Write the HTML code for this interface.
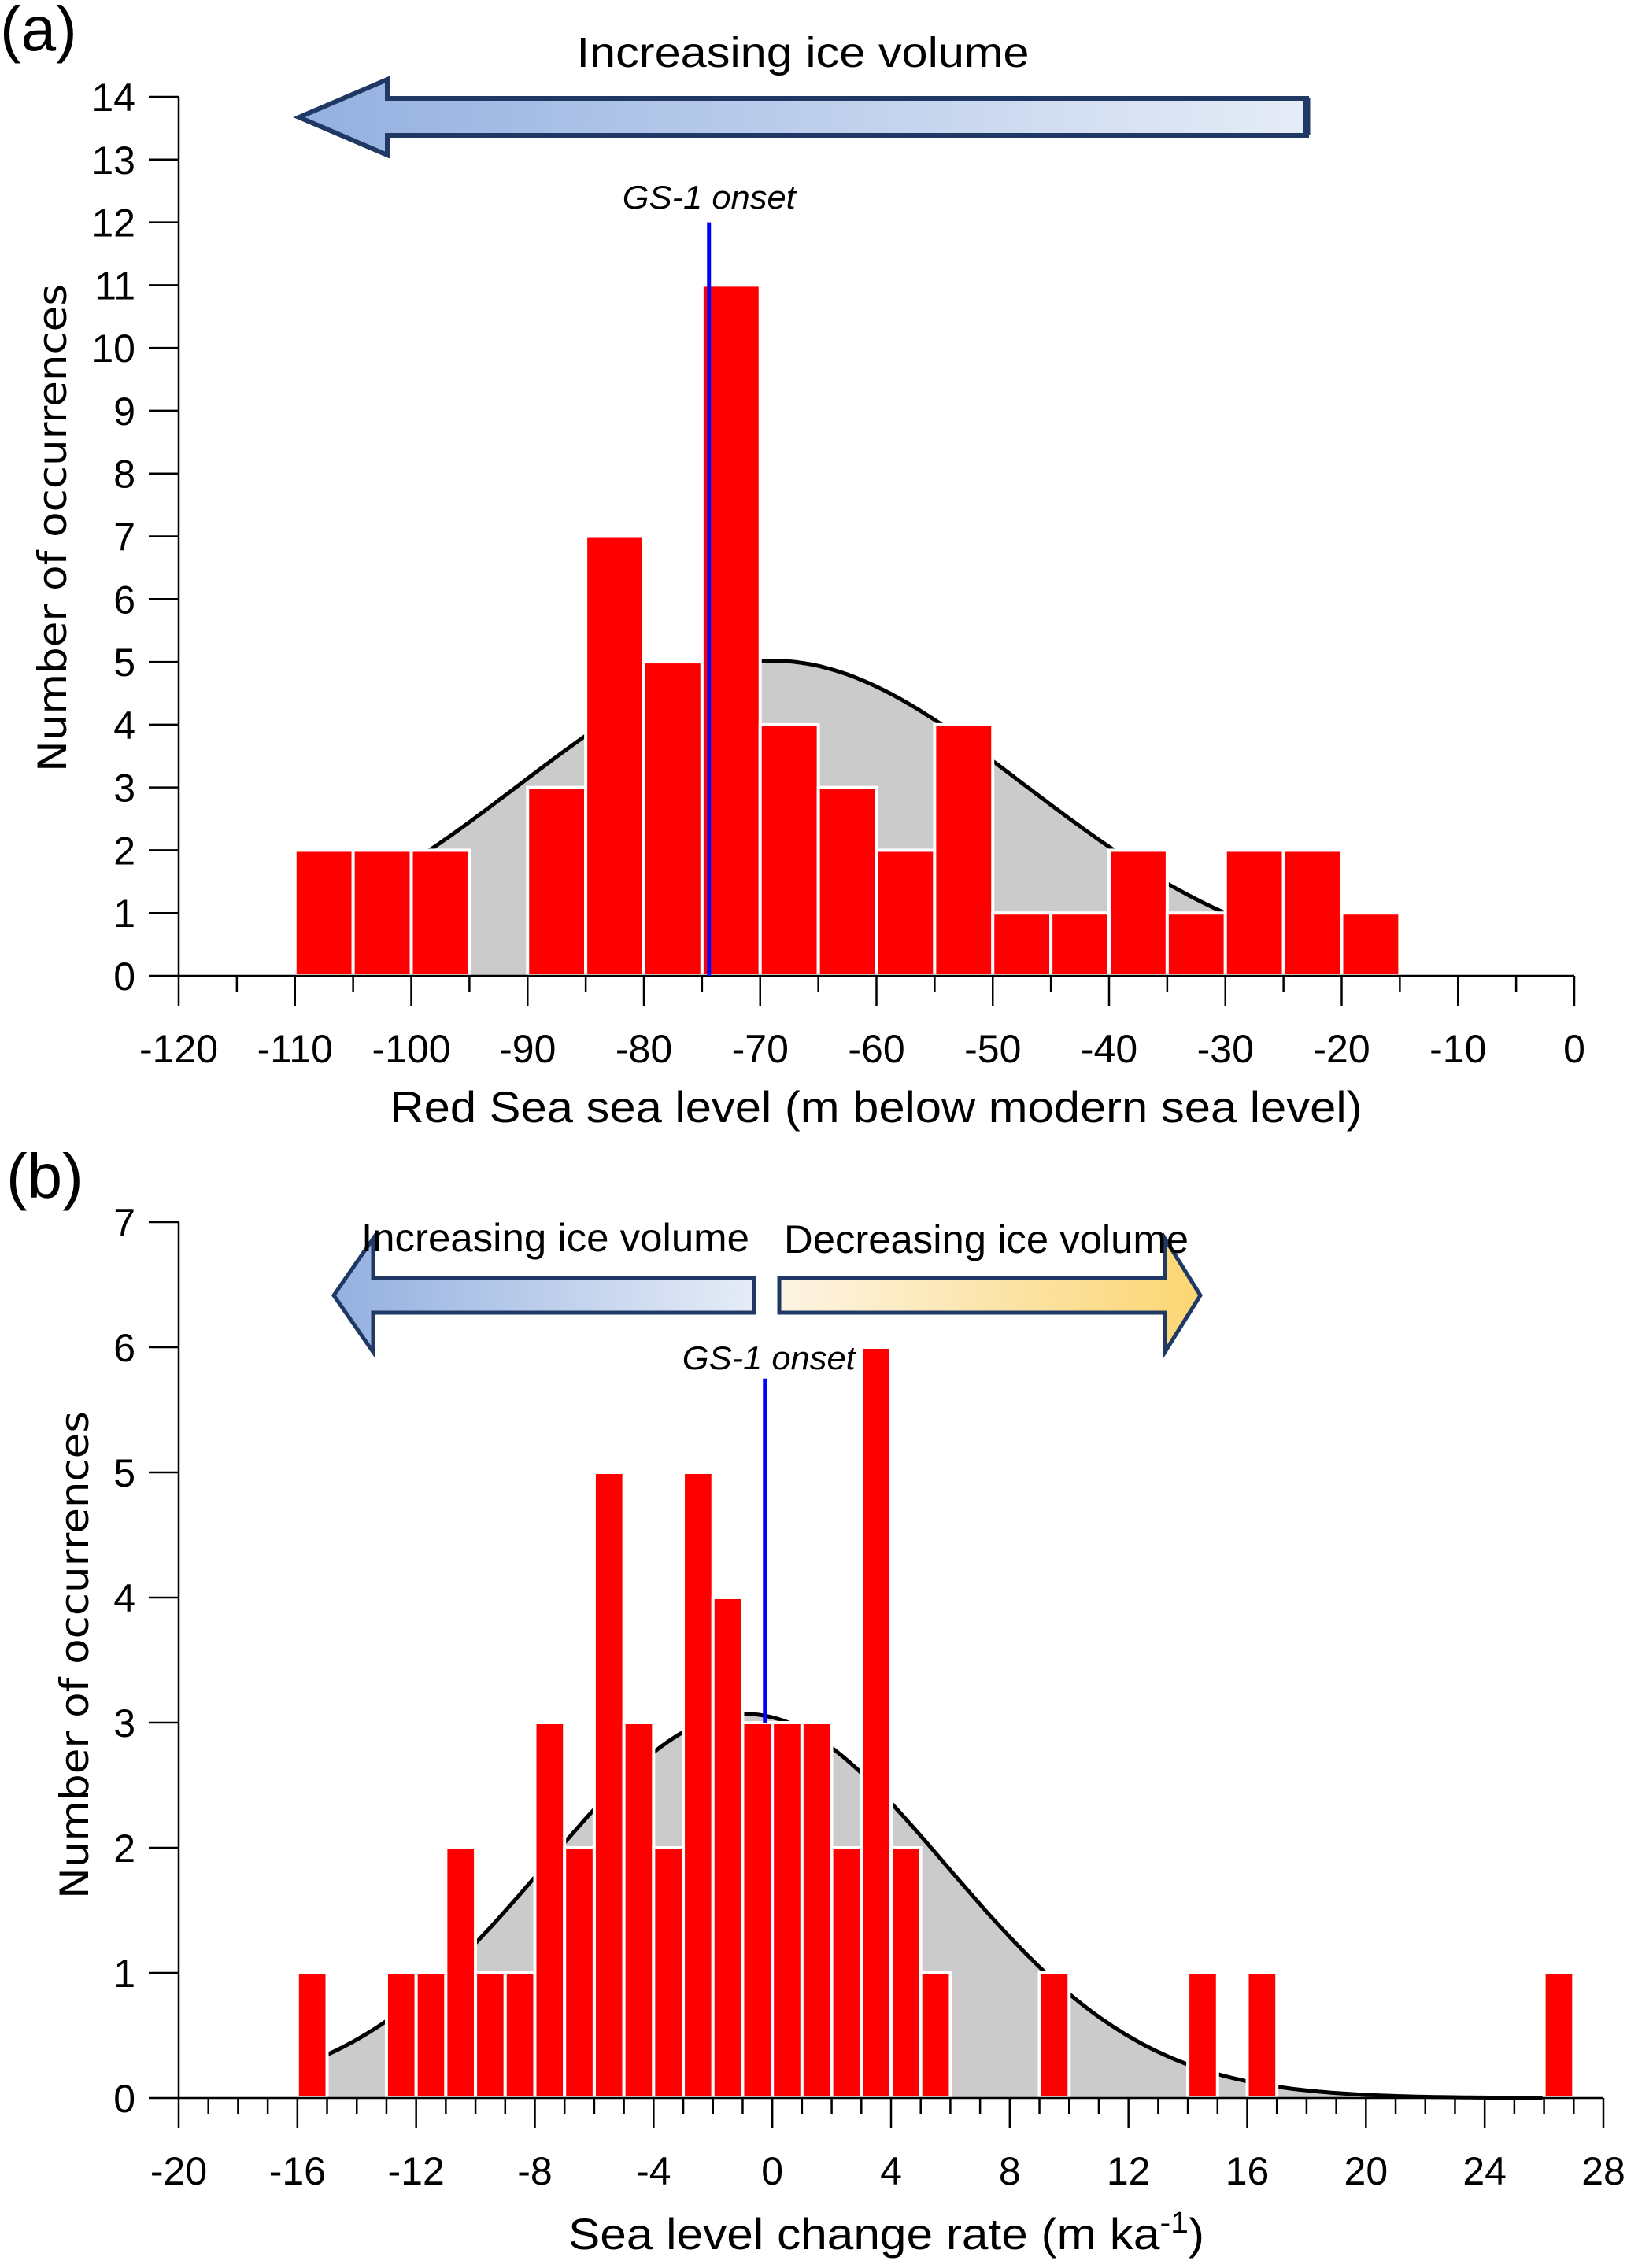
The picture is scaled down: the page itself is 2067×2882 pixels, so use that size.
<!DOCTYPE html>
<html><head><meta charset="utf-8"><style>
html,body{margin:0;padding:0;background:#fff;}
svg{display:block;}
text{font-family:"Liberation Sans",sans-serif;fill:#000;}
</style></head><body>
<svg id="fig" width="2067" height="2882" viewBox="0 0 2067 2882" xmlns="http://www.w3.org/2000/svg">
<defs>
<linearGradient id="gBlue" x1="0" x2="1" y1="0" y2="0"><stop offset="0" stop-color="#93b0e0"/><stop offset="1" stop-color="#e6ecf7"/></linearGradient>
<linearGradient id="gBlue2" x1="0" x2="1" y1="0" y2="0"><stop offset="0" stop-color="#93b0e0"/><stop offset="1" stop-color="#e6ecf7"/></linearGradient>
<linearGradient id="gYel" x1="0" x2="1" y1="0" y2="0"><stop offset="0" stop-color="#fdf4e4"/><stop offset="1" stop-color="#fcd673"/></linearGradient>
</defs>
<g id="panelA"></g>
<g id="panelB"></g>
<g>
<polygon points="380,149 492,101 492,125 1660,125 1660,172 492,172 492,197" fill="url(#gBlue)" stroke="#1f3864" stroke-width="6" stroke-linejoin="miter"/>
<line x1="1660" y1="125" x2="1660" y2="172" stroke="#1f3864" stroke-width="9"/>
</g>
<text x="1020" y="85" font-size="54" text-anchor="middle" textLength="575" lengthAdjust="spacingAndGlyphs">Increasing ice volume</text>
<g>
<polygon points="424,1646 474,1574 474,1624 958,1624 958,1668 474,1668 474,1718" fill="url(#gBlue2)" stroke="#1f3864" stroke-width="5"/>
</g>
<g>
<polygon points="1525,1646 1480,1574 1480,1624 990,1624 990,1668 1480,1668 1480,1718" fill="url(#gYel)" stroke="#1f3864" stroke-width="5"/>
</g>
<text x="459" y="1590" font-size="50" textLength="493" lengthAdjust="spacingAndGlyphs">Increasing ice volume</text>
<text x="996" y="1592" font-size="50" textLength="514" lengthAdjust="spacingAndGlyphs">Decreasing ice volume</text>
<text x="0" y="64" font-size="80">(a)</text>
<text x="8" y="1522" font-size="80">(b)</text>
</svg>
<script>
// ---- Panel A data ----
const aBinStarts = [-110,-105,-100,-95,-90,-85,-80,-75,-70,-65,-60,-55,-50,-45,-40,-35,-30,-25,-20];
const aCounts    = [2,2,2,0,3,7,5,11,4,3,2,4,1,1,2,1,2,2,1];
const aXTicks = [-120,-110,-100,-90,-80,-70,-60,-50,-40,-30,-20,-10,0];
const aYTicks = [0,1,2,3,4,5,6,7,8,9,10,11,12,13,14];
const aFitMean = -69, aFitSd = 21.7, aFitPeak = 5.02;
const aOnset = -74.4;
// ---- Panel B data ----
const bBinStarts = [-16,-13,-12,-11,-10,-9,-8,-7,-6,-5,-4,-3,-2,-1,0,1,2,3,4,5,9,14,16,26];
const bCounts    = [1,1,1,2,1,1,3,2,5,3,2,5,4,3,3,3,2,6,2,1,1,1,1,1];
const bXTicks = [-20,-16,-12,-8,-4,0,4,8,12,16,20,24,28];
const bYTicks = [0,1,2,3,4,5,6,7];
const bFitMean = -0.9, bFitSd = 6.75, bFitPeak = 3.07;
const bOnset = -0.25;

const NS="http://www.w3.org/2000/svg";
function mk(parent,tag,attrs,txt){const e=document.createElementNS(NS,tag);for(const k in attrs)e.setAttribute(k,attrs[k]);if(txt!==undefined)e.textContent=txt;parent.appendChild(e);return e;}

function drawPanel(g,cfg){
  const X=v=>cfg.x0+(v-cfg.xmin)/(cfg.xmax-cfg.xmin)*(cfg.x1-cfg.x0);
  const Y=v=>cfg.y0-(v)/(cfg.ymax)*(cfg.y0-cfg.y1);
  let pts=[];
  for(let i=0;i<=200;i++){const v=cfg.fitFrom+(cfg.fitTo-cfg.fitFrom)*i/200;const y=cfg.peak*Math.exp(-Math.pow(v-cfg.mean,2)/(2*cfg.sd*cfg.sd));pts.push(X(v).toFixed(1)+","+Y(y).toFixed(1));}
  const fill=mk(g,"polygon",{points:X(cfg.fitFrom)+","+Y(0)+" "+pts.join(" ")+" "+X(cfg.fitTo)+","+Y(0),fill:"#cbcbcb"});
  
  
  const curve=mk(g,"polyline",{points:pts.join(" "),fill:"none",stroke:"#000","stroke-width":5});
  
  
  cfg.starts.forEach((s,i)=>{
    const c=cfg.counts[i];
    if(c<=0) return;
    const r=mk(g,"rect",{x:X(s),y:Y(c),width:X(s+cfg.bw)-X(s),height:Y(0)-Y(c),fill:"#ff0000",stroke:"#fff","stroke-width":4});
    
    
  });
  const ya=mk(g,"line",{x1:cfg.x0,y1:cfg.y1,x2:cfg.x0,y2:cfg.y0,stroke:"#000","stroke-width":2.5});
  
  
  const xa=mk(g,"line",{x1:cfg.x0,y1:cfg.y0,x2:cfg.x1,y2:cfg.y0,stroke:"#000","stroke-width":2.5});
  
  
  cfg.yTicks.forEach(t=>{
    mk(g,"line",{x1:cfg.x0-38,y1:Y(t),x2:cfg.x0,y2:Y(t),stroke:"#000","stroke-width":2.5});
    const tl=mk(g,"text",{x:cfg.x0-55,y:Y(t)+18,"font-size":50,"text-anchor":"end"},String(t));
    
    
  });
  for(let v=cfg.xmin;v<=cfg.xmax+1e-9;v+=cfg.minor){
    const major=cfg.xTicks.includes(v);
    mk(g,"line",{x1:X(v),y1:cfg.y0,x2:X(v),y2:cfg.y0+(major?38:20),stroke:"#000","stroke-width":2.5});
  }
  cfg.xTicks.forEach(t=>{
    const tl=mk(g,"text",{x:X(t),y:cfg.y0+110,"font-size":50,"text-anchor":"middle"},String(t));
    
    
  });
  const ol=mk(g,"line",{x1:X(cfg.onset),y1:Y(cfg.onsetTop),x2:X(cfg.onset),y2:Y(cfg.onsetBottom),stroke:"#0000ff","stroke-width":5});
  
  
  const olab=mk(g,"text",{x:X(cfg.onset)+cfg.labDx,y:cfg.labY,"font-size":42,"font-style":"italic","text-anchor":"middle",textLength:220,lengthAdjust:"spacingAndGlyphs"},"GS-1 onset");
  
  
  const yt=mk(g,"text",{x:0,y:0,"font-size":50,"text-anchor":"middle",textLength:620,lengthAdjust:"spacingAndGlyphs",transform:"translate("+cfg.ytX+","+cfg.ytY+") rotate(-90)",style:"font-family:'DejaVu Sans',sans-serif"},"Number of occurrences");
  
  
  const xt=mk(g,"text",{x:cfg.xtX,y:cfg.xtY,"font-size":56,"text-anchor":"middle",textLength:cfg.xtLen,lengthAdjust:"spacingAndGlyphs"});
  
  
  xt.innerHTML=cfg.xtitle;
}

drawPanel(document.getElementById('panelA'),{
  x0:227,x1:2000,y0:1240,y1:123,xmin:-120,xmax:0,ymax:14,minor:5,bw:5,
  starts:aBinStarts,counts:aCounts,xTicks:aXTicks,yTicks:aYTicks,
  mean:aFitMean,sd:aFitSd,peak:aFitPeak,fitFrom:-110,fitTo:-15,
  onset:aOnset,onsetTop:12,onsetBottom:0,labDx:0,labY:265,
  ytX:84,ytY:671,xtX:1113,xtY:1426,xtLen:1235,
  xtitle:"Red Sea sea level (m below modern sea level)"
});
drawPanel(document.getElementById('panelB'),{
  x0:227,x1:2037,y0:2666,y1:1553,xmin:-20,xmax:28,ymax:7,minor:1,bw:1,
  starts:bBinStarts,counts:bCounts,xTicks:bXTicks,yTicks:bYTicks,
  mean:bFitMean,sd:bFitSd,peak:bFitPeak,fitFrom:-15,fitTo:26,
  onset:bOnset,onsetTop:5.75,onsetBottom:3,labDx:5,labY:1740,
  ytX:112,ytY:2103,xtX:1126,xtY:2858,xtLen:808,
  xtitle:'Sea  level change rate (m ka<tspan baseline-shift="super" font-size="38">-1</tspan>)'
});
</script>
</body></html>
